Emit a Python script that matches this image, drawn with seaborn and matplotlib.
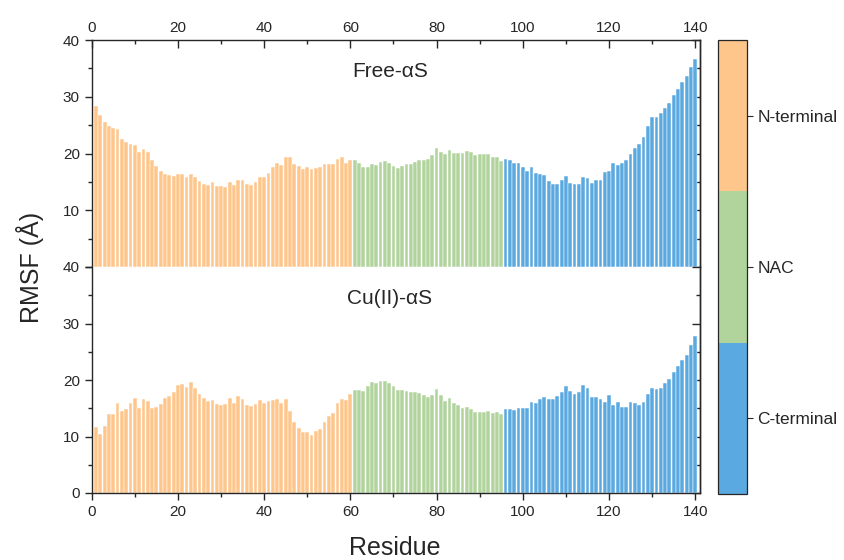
import matplotlib
matplotlib.use("Agg")
import matplotlib.pyplot as plt
from matplotlib.ticker import MultipleLocator
from matplotlib.colors import ListedColormap, BoundaryNorm
from matplotlib.cm import ScalarMappable
import seaborn as sns
import pandas as pd

# ---------------- data ----------------
residues = list(range(1, 141))
region_names = ["N-terminal", "NAC", "C-terminal"]
region_last_residue = [60, 95, 140]
region_colors = ["#FEC68B", "#B1D39C", "#5AA9E0"]

free_rmsf = [
    28.4, 26.8, 25.6, 24.9, 24.5, 24.3, 22.6, 22.1, 21.6, 21.5,
    20.3, 20.8, 20.2, 18.8, 17.8, 17.0, 16.4, 16.2, 16.0, 16.4,
    16.3, 15.8, 16.3, 15.9, 15.2, 14.6, 14.4, 14.9, 14.2, 14.2,
    14.1, 14.9, 14.4, 15.4, 15.4, 14.6, 14.5, 15.0, 15.8, 15.8,
    16.5, 17.6, 18.3, 18.0, 19.4, 19.3, 18.2, 17.8, 17.3, 17.7,
    17.3, 17.5, 17.6, 18.1, 18.1, 18.1, 19.1, 19.4, 18.4, 18.8,
    18.8, 18.4, 17.7, 17.7, 18.2, 18.0, 18.5, 18.7, 18.3, 17.8,
    17.5, 17.8, 18.1, 18.2, 18.5, 18.8, 18.8, 19.0, 19.8, 20.9,
    20.3, 19.9, 20.7, 20.1, 20.1, 20.1, 20.4, 20.2, 19.8, 19.9,
    20.0, 20.0, 19.4, 19.3, 18.7,
    19.1, 18.8, 18.4, 18.3, 17.6, 17.0, 17.6, 16.5, 16.4, 16.2,
    15.1, 14.6, 14.7, 15.3, 16.0, 14.8, 14.6, 14.7, 15.8, 15.7,
    14.8, 15.3, 15.3, 16.7, 17.0, 18.3, 17.9, 18.4, 18.8, 19.9,
    20.9, 21.7, 22.9, 24.8, 26.4, 26.4, 27.1, 28.0, 28.9, 30.3,
    31.3, 32.6, 33.6, 35.2, 36.7,
]

cu_rmsf = [
    11.7, 10.4, 11.8, 14.0, 14.0, 15.9, 14.6, 14.8, 16.0, 16.9,
    15.0, 16.6, 16.2, 15.1, 15.3, 15.8, 16.8, 17.1, 17.9, 19.1,
    19.3, 18.8, 19.6, 18.6, 17.6, 16.8, 16.2, 16.5, 15.7, 15.6,
    15.7, 16.9, 16.0, 17.1, 16.6, 15.6, 15.4, 15.8, 16.4, 16.0,
    16.2, 16.5, 16.6, 16.0, 16.6, 14.6, 12.5, 11.5, 10.8, 10.8,
    10.3, 10.9, 11.3, 12.6, 13.6, 14.2, 16.0, 16.7, 16.5, 17.5,
    18.2, 18.2, 18.0, 18.9, 19.7, 19.4, 19.9, 19.9, 19.5, 18.9,
    18.2, 18.2, 18.0, 17.8, 17.8, 17.7, 17.3, 17.0, 17.3, 18.4,
    17.3, 16.3, 16.9, 15.9, 15.6, 15.1, 15.2, 14.9, 14.3, 14.3,
    14.4, 14.6, 14.1, 14.3, 13.9,
    14.8, 14.9, 14.7, 15.1, 15.0, 15.1, 16.1, 15.9, 16.6, 17.0,
    16.6, 16.6, 17.1, 17.9, 18.9, 18.1, 17.6, 17.8, 19.1, 18.6,
    17.0, 17.0, 16.6, 16.1, 17.3, 15.6, 16.1, 15.2, 15.2, 16.1,
    15.9, 15.6, 16.1, 17.5, 18.5, 18.4, 18.6, 19.5, 20.2, 21.4,
    22.4, 23.5, 24.4, 26.2, 27.8,
]

panel_titles = ["Free-αS", "Cu(II)-αS"]
x_ticks = [0, 20, 40, 60, 80, 100, 120, 140]


def region_of(r):
    for name, last in zip(region_names, region_last_residue):
        if r <= last:
            return name
    return region_names[-1]


regions = [region_of(r) for r in residues]
df_free = pd.DataFrame({"residue": residues, "rmsf": free_rmsf, "region": regions})
df_cu = pd.DataFrame({"residue": residues, "rmsf": cu_rmsf, "region": regions})
palette = dict(zip(region_names, region_colors))

# ---------------- style ----------------
sns.set_style("ticks")
plt.rcParams["font.family"] = ["Liberation Sans", "DejaVu Sans"]
plt.rcParams["axes.linewidth"] = 1.0

W, H = 844, 560
fig = plt.figure(figsize=(W / 100, H / 100), dpi=100)

x0, x1 = 91.7, 700.0
ax1 = fig.add_axes([x0 / W, 1 - 267 / H, (x1 - x0) / W, (267 - 40) / H])
ax2 = fig.add_axes([x0 / W, 1 - 493 / H, (x1 - x0) / W, (493 - 267) / H])

for ax, df, title in zip([ax1, ax2], [df_free, df_cu], panel_titles):
    sns.barplot(data=df, x="residue", y="rmsf", hue="region", palette=palette,
                hue_order=region_names, native_scale=True, width=0.88,
                saturation=1, legend=False, errorbar=None, ax=ax,
                edgecolor="#ffffff", linewidth=0.35)
    ax.set_xlim(0, 141.1)
    ax.set_ylim(0, 40)
    ax.set_xlabel("")
    ax.set_ylabel("")
    ax.xaxis.set_major_locator(MultipleLocator(20))
    ax.xaxis.set_minor_locator(MultipleLocator(10))
    ax.yaxis.set_major_locator(MultipleLocator(10))
    ax.yaxis.set_minor_locator(MultipleLocator(5))
    ax.tick_params(axis="y", which="major", direction="out", length=5, width=1,
                   labelsize=11, left=True, right=False)
    ax.tick_params(axis="y", which="minor", direction="out", length=3, width=1,
                   left=True, right=False)
    ax.text(0.49, 0.86, title, transform=ax.transAxes, ha="center", va="center",
            fontsize=15)
    sec = ax.secondary_yaxis("right")
    sec.yaxis.set_major_locator(MultipleLocator(10))
    sec.yaxis.set_minor_locator(MultipleLocator(5))
    sec.tick_params(axis="y", which="major", direction="in", length=5.5, width=1,
                    labelright=False)
    sec.tick_params(axis="y", which="minor", direction="in", length=3, width=1)
    sec.spines["right"].set_linewidth(1.0)

# top panel: x ticks on top, inward, labels on top
ax1.spines["bottom"].set_visible(False)
ax1.tick_params(axis="x", which="both", direction="in", top=True, bottom=False,
                labeltop=True, labelbottom=False, width=1, labelsize=11)
ax1.tick_params(axis="x", which="major", length=5.5)
ax1.tick_params(axis="x", which="minor", length=3)
ax1.set_yticks([0, 10, 20, 30, 40])
ax1.set_yticklabels(["", "10", "20", "30", "40"])

# bottom panel
ax2.spines["top"].set_visible(False)
ax2.tick_params(axis="x", which="both", direction="out", top=False, bottom=True,
                labeltop=False, labelbottom=True, width=1, labelsize=11)
ax2.tick_params(axis="x", which="major", length=5)
ax2.tick_params(axis="x", which="minor", length=3)
for ax in (ax1, ax2):
    ax.set_xticks(x_ticks)
    ax.set_xticklabels([str(v) for v in x_ticks])
    ax.set_xlim(0, 141.1)

fig.text(30 / W, 1 - 267 / H, "RMSF (Å)", rotation=90, ha="center", va="center",
         fontsize=18)
fig.text(395 / W, 1 - 548 / H, "Residue", ha="center", va="center", fontsize=18)

# region colour bar
cax = fig.add_axes([718 / W, 1 - 494 / H, 29 / W, (494 - 40) / H])
cmap = ListedColormap(region_colors[::-1])
norm = BoundaryNorm([0, 1, 2, 3], cmap.N)
cb = fig.colorbar(ScalarMappable(norm=norm, cmap=cmap), cax=cax,
                  ticks=[0.5, 1.5, 2.5])
cb.set_ticklabels(region_names[::-1])
cb.minorticks_off()
cb.outline.set_linewidth(0.9)
cax.tick_params(length=4, width=0.8, labelsize=12.5)

fig.savefig("out.png", dpi=100)
